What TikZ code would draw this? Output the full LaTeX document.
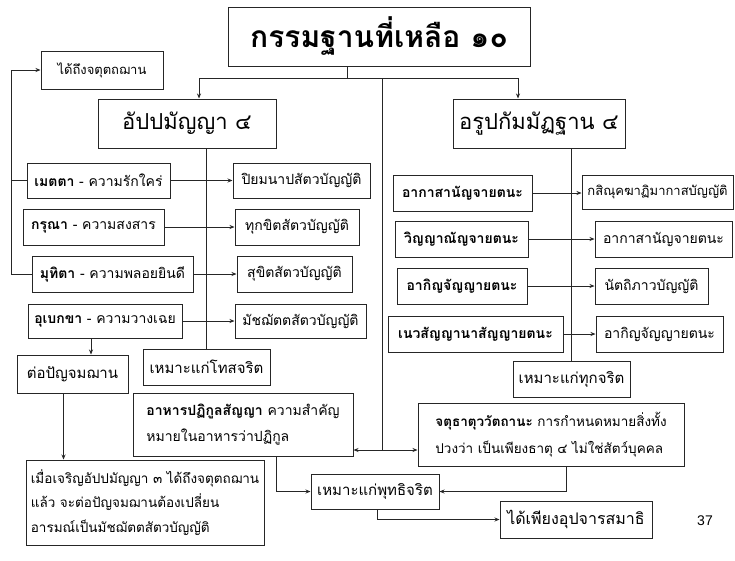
\documentclass[tikz,border=0pt]{standalone}
\usepackage{fontspec}
\setmainfont[Script=Thai]{Loma}
\newfontfamily\latfont{Liberation Sans}
\usetikzlibrary{arrows.meta}
\tikzset{
  box/.style={draw=black!85, line width=1pt, fill=white, inner sep=2pt, font=\fontsize{14}{17}\selectfont},
  arr/.style={-{Stealth[length=5pt,width=4pt]}, line width=0.7pt, draw=black!85},
  ln/.style={line width=0.7pt, draw=black!85},
}
\newcommand{\tbox}[7][]{\node[box,minimum width={#5-#3},minimum height={#6-#4},#1] (#2) at ({(#3+#5)/2},{(#4+#6)/2}) {#7};}
\begin{document}
\begin{tikzpicture}[x=1pt,y=-1pt]
\useasboundingbox[fill=white] (0,0) rectangle (735,560);
% top
\tbox[font=\fontsize{30}{34}\selectfont\bfseries]{title}{228}{7}{530}{66}{กรรมฐานที่เหลือ ๑๐}
\tbox[font=\fontsize{13}{16}\selectfont]{jat}{41}{51}{163}{89}{ได้ถึงจตุตถฌาน}
\tbox[font=\fontsize{22}{26}\selectfont]{appa}{98}{99}{276}{148}{อัปปมัญญา ๔}
\tbox[font=\fontsize{22}{26}\selectfont]{arupa}{453}{99}{625}{148}{อรูปกัมมัฏฐาน ๔}
% left column
\tbox{metta}{27}{163}{170}{198}{\textbf{เมตตา} - ความรักใคร่}
\tbox{karuna}{23}{209}{164}{245}{\textbf{กรุณา} - ความสงสาร}
\tbox{mudita}{32}{256}{193}{292}{\textbf{มุทิตา} - ความพลอยยินดี}
\tbox{upek}{28}{304}{182}{338}{\textbf{อุเบกขา} - ความวางเฉย}
\tbox{piya}{233}{163}{370}{198}{ปิยมนาปสัตวบัญญัติ}
\tbox{thuk}{235}{209}{359}{245}{ทุกขิตสัตวบัญญัติ}
\tbox{sukhi}{237}{256}{352}{292}{สุขิตสัตวบัญญัติ}
\tbox{majj}{235}{304}{366}{338}{มัชฌัตตสัตวบัญญัติ}
\tbox[font=\fontsize{15}{18}\selectfont]{tor}{17}{355}{128}{393}{ต่อปัญจมฌาน}
\tbox[font=\fontsize{15}{18}\selectfont]{thosa}{143}{349}{270}{385}{เหมาะแก่โทสจริต}
\tbox[align=left,font=\fontsize{13.5}{24.5}\selectfont]{big}{26}{460}{264}{545}{เมื่อเจริญอัปปมัญญา ๓ ได้ถึงจตุตถฌาน\\แล้ว จะต่อปัญจมฌานต้องเปลี่ยน\\อารมณ์เป็นมัชฌัตตสัตวบัญญัติ}
\tbox[align=left,font=\fontsize{14}{26}\selectfont]{ahan}{133}{393}{353}{456}{\textbf{อาหารปฏิกูลสัญญา} ความสำคัญ\\หมายในอาหารว่าปฏิกูล}
% right column
\tbox[font=\fontsize{14}{17}\selectfont\bfseries]{ar1}{393}{175}{532}{211}{อากาสานัญจายตนะ}
\tbox[font=\fontsize{14}{17}\selectfont\bfseries]{ar2}{395}{221}{528}{257}{วิญญาณัญจายตนะ}
\tbox[font=\fontsize{14}{17}\selectfont\bfseries]{ar3}{397}{268}{527}{304}{อากิญจัญญายตนะ}
\tbox[font=\fontsize{14}{17}\selectfont\bfseries]{ar4}{388}{316}{563}{352}{เนวสัญญานาสัญญายตนะ}
\tbox[font=\fontsize{13}{16}\selectfont]{rb1}{582}{175}{733}{209}{กสิณุคฆาฏิมากาสบัญญัติ}
\tbox{rb2}{595}{221}{732}{257}{อากาสานัญจายตนะ}
\tbox{rb3}{595}{268}{708}{304}{นัตถิภาวบัญญัติ}
\tbox{rb4}{596}{316}{723}{352}{อากิญจัญญายตนะ}
\tbox[font=\fontsize{15}{18}\selectfont]{thuk2}{513}{361}{630}{397}{เหมาะแก่ทุกจริต}
\tbox[align=left,font=\fontsize{13.5}{27}\selectfont]{jatu}{418}{403}{684}{466}{\textbf{จตุธาตุววัตถานะ} การกำหนดหมายสิ่งทั้ง\\ปวงว่า เป็นเพียงธาตุ ๔ ไม่ใช่สัตว์บุคคล}
\tbox[font=\fontsize{15}{18}\selectfont]{phut}{311}{474}{439}{509}{เหมาะแก่พุทธิจริต}
\tbox[font=\fontsize{16}{19}\selectfont]{upa}{500}{501}{652}{538}{ได้เพียงอุปจารสมาธิ}
\node[font=\latfont\fontsize{14}{16}\selectfont] (pg) at (705,521) {37};
% connectors
\coordinate (t1) at (347,78);
\coordinate (ta) at (199,78);
\coordinate (tb) at (518,78);
\coordinate (tc) at (382,78);
\coordinate (tj) at (382,450);
\coordinate (lx) at (11,0);
\draw[ln] (t1 |- title.south) -- (t1);
\draw[arr] (t1) -- (ta) -- (ta |- appa.north);
\draw[arr] (t1) -- (tb) -- (tb |- arupa.north);
\draw[ln] (tc) -- (tj);
\draw[arr] (tj) -- (tj -| ahan.east);
\draw[arr] (tj) -- (tj -| jatu.west);
\draw[ln] (appa.south -| thosa.north) -- (thosa.north);
\draw[ln] (arupa.south -| thuk2.north) -- (thuk2.north);
\draw[arr] (mudita.west) -- (mudita.west -| lx) -- (jat.west -| lx) -- (jat.west);
\draw[ln] (metta.west) -- (metta.west -| lx);
\draw[arr] (metta.east) -- (metta.east -| piya.west);
\draw[arr] (karuna.east) -- (karuna.east -| thuk.west);
\draw[arr] (mudita.east) -- (mudita.east -| sukhi.west);
\draw[arr] (upek.east) -- (upek.east -| majj.west);
\draw[arr] ([xshift=-14pt]upek.south) -- ([xshift=-14pt]upek.south |- tor.north);
\draw[arr] ([xshift=-9pt]tor.south) -- ([xshift=-9pt]tor.south |- big.north);
\draw[arr] (ar1.east) -- (ar1.east -| rb1.west);
\draw[arr] (ar2.east) -- (ar2.east -| rb2.west);
\draw[arr] (ar3.east) -- (ar3.east -| rb3.west);
\draw[arr] (ar4.east) -- (ar4.east -| rb4.west);
\draw[arr] ([xshift=33pt]ahan.south) |- (phut.west);
\draw[arr] ([xshift=15pt]jatu.south) |- (phut.east);
\draw[arr] ([xshift=2pt]phut.south) |- (upa.west);
\end{tikzpicture}
\end{document}
